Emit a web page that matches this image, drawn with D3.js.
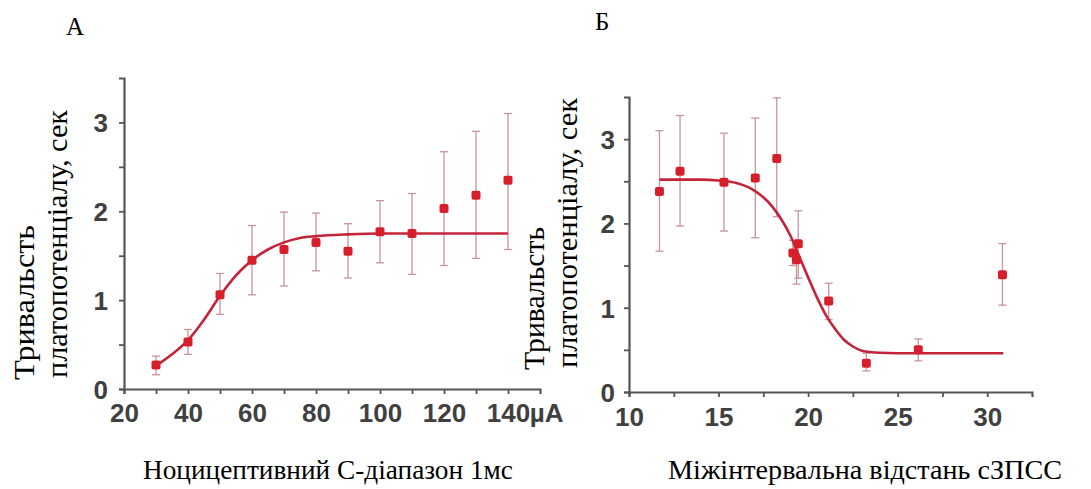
<!DOCTYPE html>
<html><head><meta charset="utf-8">
<script src="https://cdn.jsdelivr.net/npm/d3@7"></script>
<style>
html,body{margin:0;padding:0;background:#fff;}
svg{display:block;}
</style></head>
<body>
<svg id="c" width="1091" height="489"></svg>
<script>
// Panel A data
const aX = [30,40,50,60,70,80,90,100,110,120,130,140];
const aY = [0.27,0.53,1.06,1.45,1.57,1.65,1.55,1.77,1.75,2.03,2.18,2.35];
const aHi = [0.37,0.67,1.30,1.84,1.99,1.98,1.86,2.12,2.20,2.67,2.90,3.10];
const aLo = [0.16,0.39,0.84,1.06,1.16,1.33,1.25,1.42,1.29,1.39,1.47,1.57];
const aFitX = [30,35,40,45,50,55,60,65,70,75,80,90,100,140];
const aFitY = [0.26,0.39,0.55,0.78,1.05,1.28,1.45,1.57,1.65,1.70,1.72,1.74,1.75,1.75];
const aTicks = [20,40,60,80,100,120,140];
const aMinor = [30,50,70,90,110,130];

// Panel B data
const bX = [11.7,12.85,15.3,17.05,18.25,19.15,19.45,19.35,21.15,23.25,26.15,30.85];
const bY = [2.38,2.62,2.49,2.54,2.77,1.65,1.76,1.57,1.08,0.34,0.50,1.39];
const bHi = [3.10,3.28,3.07,3.25,3.49,1.80,2.15,1.72,1.29,0.46,0.63,1.76];
const bLo = [1.67,1.97,1.91,1.83,2.08,1.50,1.35,1.28,0.86,0.25,0.37,1.03];
const bFitX = [11.7,13,14,15,16,17,17.5,18,18.5,19,19.5,20,20.5,21,21.5,22,22.5,23,24,25,30.9];
const bFitY = [2.52,2.52,2.52,2.51,2.48,2.39,2.31,2.20,2.05,1.86,1.61,1.36,1.12,0.91,0.75,0.62,0.54,0.49,0.465,0.46,0.46];
const bTicks = [10,15,20,25,30];
const bMinor = [12.5,17.5,22.5,27.5];

const yTicks = [0,1,2,3];
const yMinor = [0.5,1.5,2.5];

const svg = d3.select('#c');
const axisCol = '#555';
const tickFont = '"Liberation Sans", Arial, sans-serif';
const serif = '"Liberation Serif", "Times New Roman", serif';
const tickCol = '#404040';

function panel(cfg){
  const g = svg.append('g');
  const x = d3.scaleLinear().domain(cfg.xDom).range(cfg.xRange);
  const y = d3.scaleLinear().domain([0,3.5]).range(cfg.yRange);
  // axes
  const ax = d3.axisBottom(x).tickValues(cfg.ticks.concat(cfg.minor)).tickSize(5).tickFormat(d => cfg.ticks.includes(d) ? d : '');
  const gx = g.append('g').attr('transform',`translate(0,${y(0)})`).call(ax);
  gx.select('.domain').attr('stroke',axisCol).attr('stroke-width',2.2);
  gx.selectAll('.tick line').attr('stroke',axisCol).attr('stroke-width',1.8);
  gx.selectAll('.tick text').attr('font-family',tickFont).attr('font-size',26).attr('font-weight','bold').attr('fill',tickCol).attr('y',cfg.xLabDy).attr('dy',0);
  const ay = d3.axisLeft(y).tickValues(yTicks.concat(yMinor)).tickSize(5).tickFormat(d => yTicks.includes(d) ? d : '');
  const gy = g.append('g').attr('transform',`translate(${cfg.xRange[0]},0)`).call(ay);
  gy.select('.domain').attr('stroke',axisCol).attr('stroke-width',2.2);
  gy.selectAll('.tick line').attr('stroke',axisCol).attr('stroke-width',1.8);
  gy.selectAll('.tick text').attr('font-family',tickFont).attr('font-size',26).attr('font-weight','bold').attr('fill',tickCol).attr('x',cfg.yLabDx).attr('dy','0.36em');
  if (cfg.extra) cfg.extra(gx, x);

  // error bars
  const eb = g.append('g').attr('stroke','#c7959a').attr('stroke-width',1.3).attr('fill','none');
  cfg.xs.forEach((xv,i)=>{
    const px = x(xv);
    eb.append('line').attr('x1',px).attr('x2',px).attr('y1',y(cfg.hi[i])).attr('y2',y(cfg.lo[i]));
    eb.append('line').attr('x1',px-4).attr('x2',px+4).attr('y1',y(cfg.hi[i])).attr('y2',y(cfg.hi[i]));
    eb.append('line').attr('x1',px-4).attr('x2',px+4).attr('y1',y(cfg.lo[i])).attr('y2',y(cfg.lo[i]));
  });
  // fit curve
  const line = d3.line().x(d=>x(d[0])).y(d=>y(d[1])).curve(d3.curveMonotoneX);
  g.append('path').datum(cfg.fx.map((v,i)=>[v,cfg.fy[i]])).attr('d',line)
    .attr('fill','none').attr('stroke','#c3243a').attr('stroke-width',2.6);
  // points
  g.append('g').selectAll('rect').data(cfg.xs.map((v,i)=>[v,cfg.ys[i]])).join('rect')
    .attr('x',d=>x(d[0])-4.5).attr('y',d=>y(d[1])-4.5).attr('width',9).attr('height',9).attr('rx',2)
    .attr('fill','#d71f2c');
  // titles
  g.append('text').attr('x',cfg.title[1]).attr('y',cfg.title[2]).text(cfg.title[0])
    .attr('font-family',serif).attr('font-size',cfg.title[3]).attr('fill','#000');
  g.append('text').attr('x',cfg.xTitle[1]).attr('y',cfg.xTitle[2]).text(cfg.xTitle[0])
    .attr('font-family',serif).attr('font-size',28).attr('fill','#000')
    .attr('textLength',cfg.xTitle[3]).attr('lengthAdjust','spacingAndGlyphs');
  cfg.yTitle.forEach(t=>{
    g.append('text').attr('transform',`translate(${t[1]},${t[2]}) rotate(-90)`).text(t[0])
      .attr('font-family',serif).attr('font-size',30).attr('fill','#000')
      .attr('textLength',t[3]).attr('lengthAdjust','spacingAndGlyphs');
  });
}

panel({
  xDom:[20,150], xRange:[124,540], yRange:[389,78],
  ticks:aTicks, minor:aMinor, xLabDy:33, yLabDx:-16,
  xs:aX, ys:aY, hi:aHi, lo:aLo, fx:aFitX, fy:aFitY,
  title:['А',66,35,25],
  xTitle:['Ноцицептивний С-діапазон 1мс',143,479,370],
  yTitle:[['Тривальсть',34,380,155],['платопотенціалу, сек',67,378,268]],
  extra:(gx,x)=>{
    const t = gx.selectAll('.tick').filter(d=>d===140).select('text');
    const w = t.node().getComputedTextLength();
    gx.append('text').attr('x',x(140)+w/2).attr('y',33).text('µA')
      .attr('font-family',tickFont).attr('font-size',26).attr('font-weight','bold').attr('fill',tickCol).attr('text-anchor','start');
  }
});

panel({
  xDom:[10,32.5], xRange:[629,1032], yRange:[392,97],
  ticks:bTicks, minor:bMinor, xLabDy:34, yLabDx:-14,
  xs:bX, ys:bY, hi:bHi, lo:bLo, fx:bFitX, fy:bFitY,
  title:['Б',595,30,25],
  xTitle:['Міжінтервальна відстань сЗПСС',668,479,394],
  yTitle:[['Тривальсть',544,370,143],['платопотенціалу, сек',577,368,270]]
});
</script>
</body></html>
